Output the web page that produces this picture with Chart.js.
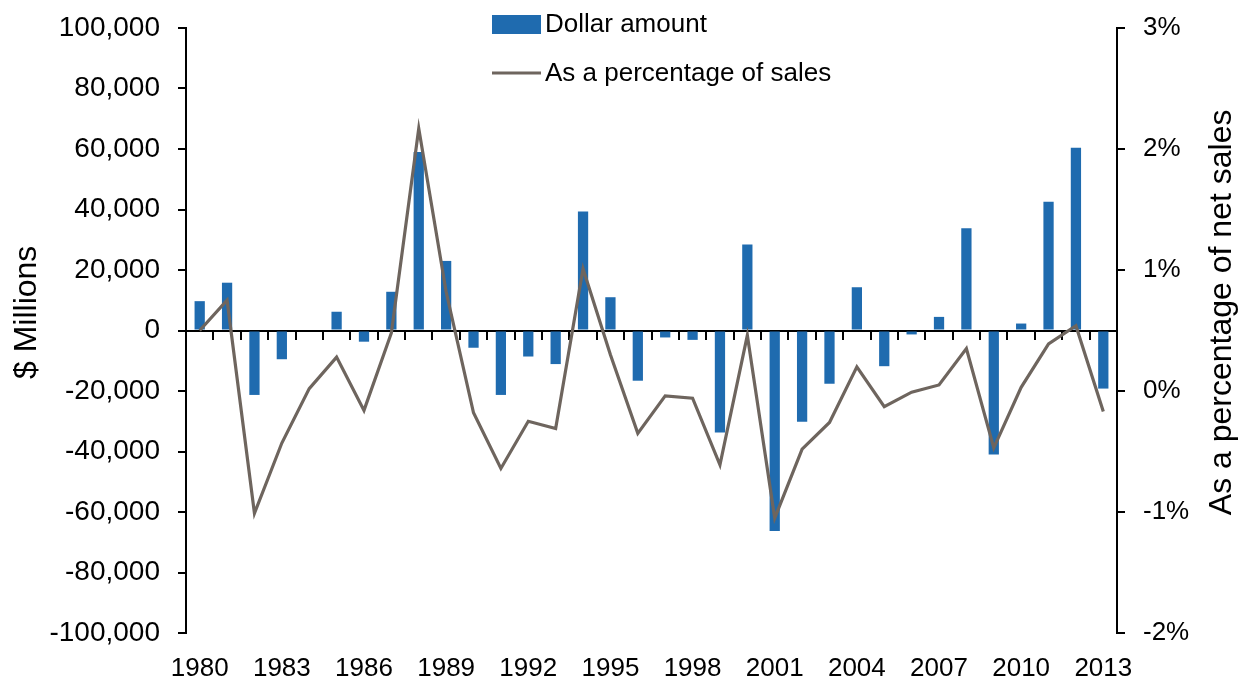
<!DOCTYPE html>
<html>
<head>
<meta charset="utf-8">
<script src="https://cdn.jsdelivr.net/npm/chart.js@4/dist/chart.umd.min.js"></script>
<style>
  html, body { margin: 0; padding: 0; background: #fff; }
</style>
</head>
<body>
<canvas id="chart" width="1244" height="681"></canvas>
<script>
// years on the category axis
var years = [1980, 1981, 1982, 1983, 1984, 1985, 1986, 1987, 1988, 1989,
             1990, 1991, 1992, 1993, 1994, 1995, 1996, 1997, 1998, 1999,
             2000, 2001, 2002, 2003, 2004, 2005, 2006, 2007, 2008, 2009,
             2010, 2011, 2012, 2013];

// $ millions
var dollarAmount = [9700, 15800, -21300, -9500, 0, 6200, -3700, 12800, 59000, 23000,
                    -5700, -21300, -8600, -11100, 39300, 11000, -16600, -2300, -3100, -33700,
                    28400, -66300, -30200, -17600, 14300, -11800, -1300, 4500, 33800, -41000,
                    2300, 42600, 60400, -19200];

// % of net sales
var pctOfSales = [0.50, 0.75, -1.01, -0.43, 0.02, 0.28, -0.16, 0.48, 2.17, 0.82,
                  -0.18, -0.64, -0.25, -0.31, 1.01, 0.30, -0.35, -0.04, -0.06, -0.61,
                  0.46, -1.05, -0.48, -0.26, 0.20, -0.13, -0.01, 0.05, 0.35, -0.47,
                  0.03, 0.39, 0.54, -0.17];

var leftTitle = '$ Millions';
var rightTitle = 'As a percentage of net sales';
var labelEvery = 3;
var FONT = "'Liberation Sans', Arial, sans-serif";
var BAR_COLOR = '#1F6BAF';
var LINE_COLOR = '#6E655E';

Chart.defaults.font.family = FONT;
Chart.defaults.font.size = 26;
Chart.defaults.color = '#000';

// legend in two rows + both axis titles reading bottom-to-top
var extras = {
    id: 'extras',
    afterDraw: function (chart) {
        var ctx = chart.ctx;
        var area = chart.chartArea;
        var bars = chart.data.datasets[1], line = chart.data.datasets[0];
        var x0 = 492, w = 49;
        ctx.save();
        ctx.font = '26px ' + FONT;
        ctx.textBaseline = 'middle';
        ctx.textAlign = 'left';

        ctx.fillStyle = bars.backgroundColor;
        ctx.fillRect(x0, 15, w, 19);
        ctx.fillStyle = '#000';
        ctx.fillText(bars.label, x0 + w + 4, 25);

        ctx.strokeStyle = line.borderColor;
        ctx.lineWidth = 3;
        ctx.beginPath();
        ctx.moveTo(x0, 73);
        ctx.lineTo(x0 + w, 73);
        ctx.stroke();
        ctx.fillText(line.label, x0 + w + 4, 74);

        // axis titles
        var midY = area.top + (area.bottom - area.top) * 0.47;
        ctx.font = '32px ' + FONT;
        ctx.textAlign = 'center';
        [[27, leftTitle], [1222, rightTitle]].forEach(function (t) {
            ctx.save();
            ctx.translate(t[0], midY);
            ctx.rotate(-Math.PI / 2);
            ctx.fillText(t[1], 0, 0);
            ctx.restore();
        });
        ctx.restore();
    }
};

var axisGrid = {
    drawOnChartArea: false,
    drawTicks: true,
    tickLength: 8,
    lineWidth: 2,
    color: '#000'
};
var axisBorder = { display: true, color: '#000', width: 2 };

// fixed box sizes so the plot area lands where the original has it
function fixWidth(w) {
    return function (s) {
        s.width = w;
        s.paddingTop = 0;
        s.paddingBottom = 0;
    };
}

var ctx = document.getElementById('chart').getContext('2d');
var chart = new Chart(ctx, {
    type: 'bar',
    data: {
        labels: years.map(String),
        datasets: [{
            type: 'line',
            label: 'As a percentage of sales',
            data: pctOfSales,
            yAxisID: 'y1',
            xAxisID: 'x',
            borderColor: LINE_COLOR,
            borderWidth: 3.2,
            pointRadius: 0,
            tension: 0,
            order: 0
        }, {
            type: 'bar',
            label: 'Dollar amount',
            data: dollarAmount,
            yAxisID: 'y',
            xAxisID: 'x',
            backgroundColor: BAR_COLOR,
            barPercentage: 0.75,
            categoryPercentage: 0.5,
            order: 1
        }]
    },
    options: {
        responsive: false,
        animation: false,
        layout: { padding: { top: 28, left: 0, right: 0, bottom: 0 } },
        plugins: {
            legend: { display: false },
            tooltip: { enabled: false }
        },
        scales: {
            x: {
                type: 'category',
                position: 'bottom',
                offset: true,
                grid: { display: false },
                border: { display: false },
                ticks: {
                    autoSkip: false,
                    maxRotation: 0,
                    padding: 12,
                    callback: function (v, i) {
                        return i % labelEvery === 0 ? this.getLabelForValue(v) : '';
                    }
                },
                afterFit: function (s) { s.height = 48; }
            },
            // zero line with the small year ticks
            x2: {
                type: 'category',
                labels: years.map(String),
                position: { y: 0 },
                offset: true,
                z: 1,
                grid: Object.assign({ offset: true }, axisGrid),
                border: axisBorder,
                ticks: { display: false }
            },
            y: {
                position: 'left',
                min: -100000,
                max: 100000,
                grid: axisGrid,
                border: axisBorder,
                ticks: {
                    stepSize: 20000,
                    padding: 18,
                    font: { size: 28 },
                    callback: function (v) { return v.toLocaleString('en-US'); }
                },
                afterFit: fixWidth(186)
            },
            y1: {
                position: 'right',
                min: -2,
                max: 3,
                grid: axisGrid,
                border: axisBorder,
                ticks: {
                    stepSize: 1,
                    padding: 18,
                    callback: function (v) { return v + '%'; }
                },
                afterFit: fixWidth(127)
            }
        }
    },
    plugins: [extras]
});
</script>
</body>
</html>
